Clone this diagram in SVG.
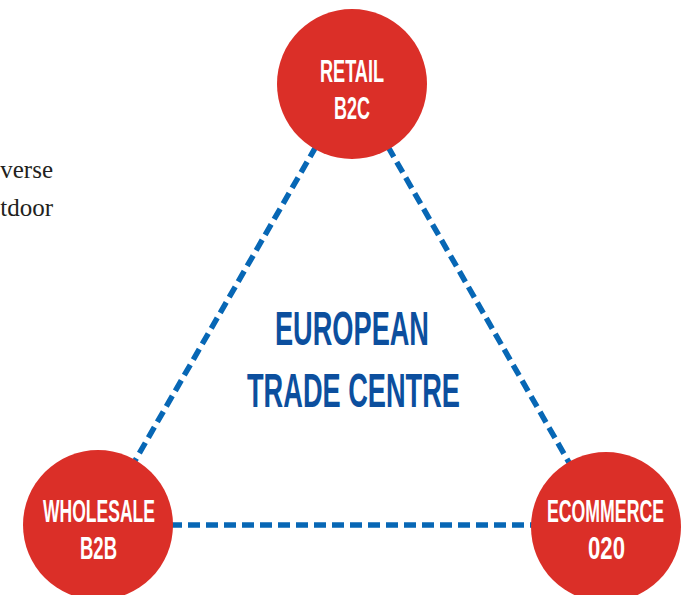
<svg xmlns="http://www.w3.org/2000/svg" width="689" height="595" viewBox="0 0 689 595">
  <style>
    .link { stroke: #0767b5; stroke-width: 5.5; stroke-dasharray: 12 6; fill: none; }
    .hub { fill: #db2f28; }
    .hub-label { font-family: "Liberation Sans", Arial, sans-serif; font-weight: bold; font-size: 31px; fill: #ffffff; text-anchor: middle; }
    .title { font-family: "Liberation Sans", Arial, sans-serif; font-weight: bold; font-size: 49px; fill: #0c4f9e; text-anchor: middle; }
    .body { font-family: "Liberation Serif", "Times New Roman", serif; font-size: 25px; fill: #231f20; text-anchor: end; }
  </style>
  <rect width="689" height="595" fill="#ffffff"/>

  <!-- clipped body copy at the left edge -->
  <g id="body-copy">
    <text class="body" x="53" y="178">verse</text>
    <text class="body" x="53" y="216">tdoor</text>
  </g>

  <!-- dashed links between the three channels -->
  <g id="connectors">
    <line class="link" x1="352" y1="84" x2="98" y2="525"/>
    <line class="link" x1="352" y1="84" x2="606" y2="527"/>
    <line class="link" x1="98" y1="525" x2="606" y2="525"/>
  </g>

  <g id="centre-title">
    <text class="title" x="352" y="345" textLength="154" lengthAdjust="spacingAndGlyphs">EUROPEAN</text>
    <text class="title" x="353.5" y="407" textLength="213" lengthAdjust="spacingAndGlyphs">TRADE CENTRE</text>
  </g>

  <g id="retail">
    <circle class="hub" cx="352" cy="84" r="75"/>
    <text class="hub-label" x="352" y="82" textLength="64" lengthAdjust="spacingAndGlyphs">RETAIL</text>
    <text class="hub-label" x="352" y="119" textLength="36" lengthAdjust="spacingAndGlyphs">B2C</text>
  </g>

  <g id="wholesale">
    <circle class="hub" cx="98" cy="525" r="75"/>
    <text class="hub-label" x="99" y="522" textLength="112" lengthAdjust="spacingAndGlyphs">WHOLESALE</text>
    <text class="hub-label" x="98.5" y="559" textLength="37" lengthAdjust="spacingAndGlyphs">B2B</text>
  </g>

  <g id="ecommerce">
    <circle class="hub" cx="606" cy="527" r="75"/>
    <text class="hub-label" x="605.5" y="522" textLength="117" lengthAdjust="spacingAndGlyphs">ECOMMERCE</text>
    <text class="hub-label" x="606.5" y="559" textLength="37" lengthAdjust="spacingAndGlyphs">020</text>
  </g>
</svg>
